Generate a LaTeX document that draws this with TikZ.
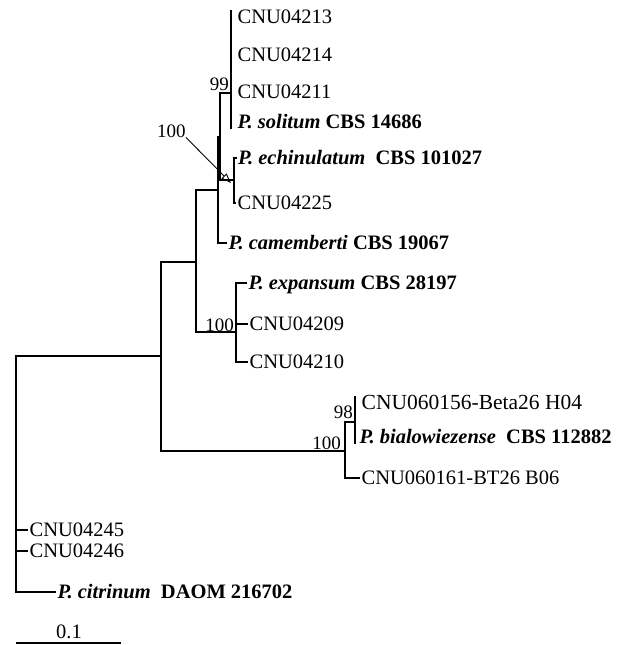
\documentclass[tikz,border=0pt]{standalone}
\usepackage{fontspec}
\setmainfont{Liberation Serif}
\usetikzlibrary{arrows.meta}
\newcommand{\spn}[3][ ]{\textbf{\textit{#2}}#1\textbf{#3}}
\tikzset{>={Triangle[open,length=10pt,width=7pt]},
  branch/.style={draw=black,line width=1.1pt},
  taxon/.style={anchor=west,inner xsep=1.5pt,inner ysep=0pt,text height=13.5pt,text depth=0pt,font=\fontsize{20.5}{22}\selectfont},
  boot/.style={anchor=base east,inner sep=0pt,font=\fontsize{19}{21}\selectfont}}
\begin{document}
\begin{tikzpicture}[x=1pt,y=-1pt]
\useasboundingbox (0,0) rectangle (622,645);
% inner nodes
\coordinate (n99) at (231,93);\coordinate (nE) at (234,180);\coordinate (nD) at (220,137);\coordinate (nC) at (218,190);\coordinate (nB) at (196,262);\coordinate (nX) at (236,332);\coordinate (nA) at (161,356);\coordinate (n98) at (355,422);\coordinate (nBia) at (345,451);\coordinate (nR) at (16,356);
% taxa
\node[taxon] (t1) at (236,17) {CNU04213};
\node[taxon] (t2) at (236,55) {CNU04214};
\node[taxon] (t3) at (236,92) {CNU04211};
\node[taxon] (t4) at (236,122) {\spn{P. solitum}{CBS 14686}};
\node[taxon] (t5) at (236.5,158) {\spn[\enspace]{P. echinulatum}{CBS 101027}};
\node[taxon] (t6) at (236,203) {CNU04225};
\node[taxon] (t7) at (227,243) {\spn{P. camemberti}{CBS 19067}};
\node[taxon] (t8) at (247,283) {\spn{P. expansum}{CBS 28197}};
\node[taxon] (t9) at (248,324) {CNU04209};
\node[taxon] (t10) at (248,362) {CNU04210};
\node[taxon,font=\fontsize{21.5}{23}\selectfont] (t11) at (360,403) {CNU060156-Beta26 H04};
\node[taxon] (t12) at (358,437) {\spn[\enspace]{P. bialowiezense}{CBS 112882}};
\node[taxon] (t13) at (360,478) {CNU060161-BT26 B06};
\node[taxon] (t14) at (28,530) {CNU04245};
\node[taxon] (t15) at (28,551) {CNU04246};
\node[taxon] (t16) at (56,592) {\spn[\enspace]{P. citrinum}{DAOM 216702}};
% branches
\draw[branch] (n99|-t1.north) -- (n99|-t4.south);
\draw[branch] (t5.west) -| (nE) |- (t6.west);
\draw[branch] (n99) -| (nD) |- (nE);
\draw[branch] (nD) -| (nC) |- (t7.west);
\draw[branch] (nC) -| (nB) |- (nX);
\draw[branch] (t8.west) -| (nX) |- (t10.west);\draw[branch] (nX|-t9.west) -- (t9.west);
\draw[branch] (nB) -| (nA) |- (nBia);
\draw[branch] (n98|-t11.north) -- (n98|-t12.south);
\draw[branch] (n98) -| (nBia) |- (t13.west);
\draw[branch] (nA) -| (nR) |- (t16.west);
\foreach \t in {t14,t15} {\draw[branch] (nR|-\t.west) -- (\t.west);}
% bootstrap values
\node[boot] (b99) at (229,90) {99};
\node[boot] (b100x) at (234,331) {100};
\node[boot] (b100b) at (341,449) {100};
\node[boot] (b98) at (353,418) {98};
\node[boot,anchor=base west] (b100e) at (157,137) {100};
\coordinate (ah) at (231,183);
\draw[->,line width=.9pt] (b100e.south east) -- (ah);
% scale
\node[taxon,anchor=center] (sb) at (69,632) {0.1};
\coordinate (sbl) at (16,643);\coordinate (sbr) at (121,643);
\draw[branch] (sbl) -- (sbr);
\end{tikzpicture}
\end{document}
